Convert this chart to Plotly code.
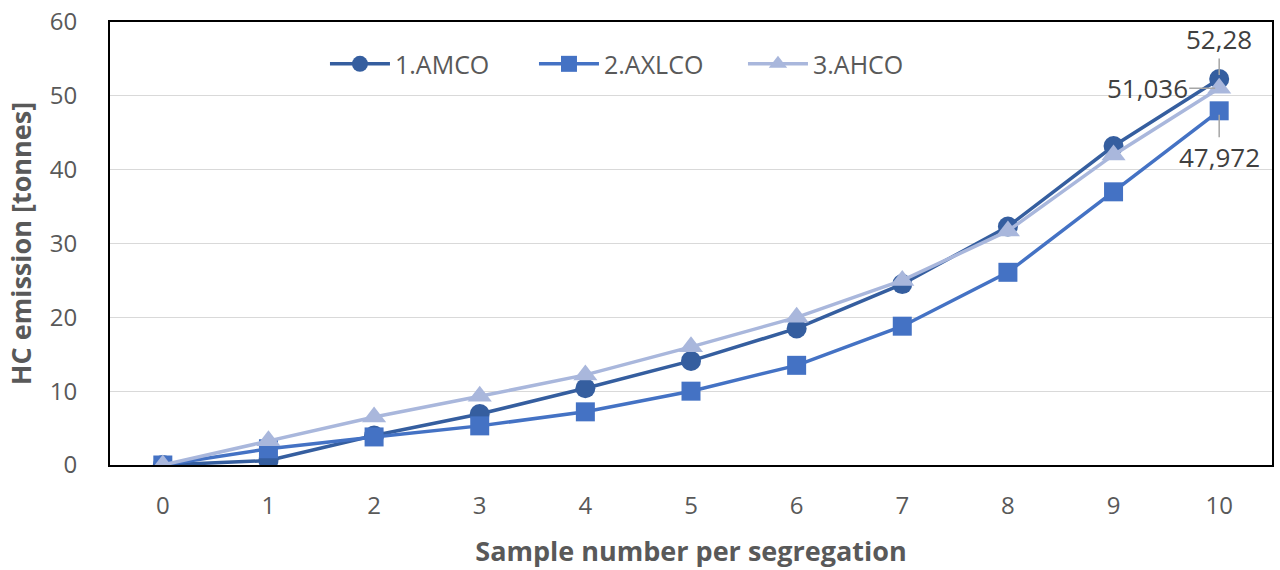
import plotly.graph_objects as go

samples = [0, 1, 2, 3, 4, 5, 6, 7, 8, 9, 10]
amco = [0, 0.6, 4.0, 6.9, 10.4, 14.1, 18.5, 24.5, 32.3, 43.2, 52.28]
axlco = [0, 2.2, 3.8, 5.3, 7.2, 10.0, 13.5, 18.8, 26.1, 37.0, 47.972]
ahco = [0, 3.3, 6.5, 9.3, 12.2, 16.0, 20.0, 25.0, 31.7, 42.0, 51.036]

series = [
    ("1.AMCO", amco, "#355E9F", "circle", 20),
    ("2.AXLCO", axlco, "#4472C4", "square", 19),
    ("3.AHCO", ahco, "#A9B7DC", "triangle-up", 21),
]

FONT = "Open Sans"
GREY = "#595959"

fig = go.Figure()
for name, vals, color, sym, size in series:
    fig.add_trace(go.Scatter(
        x=samples, y=vals, name=name, mode="lines+markers",
        line=dict(color=color, width=3.5),
        marker=dict(symbol=sym, size=size, color=color, line=dict(width=0)),
    ))

# end-point value labels with leader lines
labels = [
    (amco[-1], "52,28", 0, -40),
    (ahco[-1], "51,036", -72, 0),
    (axlco[-1], "47,972", 0, 46),
]
for yv, txt, ax, ay in labels:
    fig.add_annotation(
        x=samples[-1], y=yv, text=txt, showarrow=True, arrowhead=0,
        arrowcolor="#A6A6A6", arrowwidth=1.5, ax=ax, ay=ay, standoff=4,
        font=dict(family=FONT, size=26, color="#404040"),
    )

fig.update_layout(
    width=1280, height=570,
    margin=dict(l=110, r=8, t=22, b=105, autoexpand=False),
    paper_bgcolor="white", plot_bgcolor="white",
    separators=", ",
    font=dict(family=FONT, size=24, color=GREY),
    showlegend=True,
    legend=dict(
        orientation="h", x=0.185, y=0.905, xanchor="left", yanchor="middle",
        font=dict(family=FONT, size=25, color=GREY),
        bgcolor="rgba(0,0,0,0)", itemwidth=60,
        entrywidth=134, entrywidthmode="pixels",
    ),
    xaxis=dict(
        type="linear", range=[-0.5, 10.5], tickmode="array", tickvals=samples,
        showgrid=False, zeroline=False, automargin=False,
        showline=True, linecolor="black", linewidth=2, mirror=True,
        ticks="", ticklabelstandoff=18,
        tickfont=dict(family=FONT, size=24, color=GREY),
        title=dict(text="<b>Sample number per segregation</b>",
                   font=dict(family=FONT, size=27, color=GREY), standoff=22),
    ),
    yaxis=dict(
        range=[0, 60], dtick=10, showgrid=True, gridcolor="#D9D9D9", gridwidth=1,
        zeroline=False, showline=True, linecolor="black", linewidth=2, mirror=True,
        ticks="", ticklabelstandoff=26, automargin=False,
        tickfont=dict(family=FONT, size=24, color=GREY),
        title=dict(text="<b>HC emission [tonnes]</b>",
                   font=dict(family=FONT, size=27, color=GREY), standoff=10),
    ),
)

fig.write_html("out.html")
